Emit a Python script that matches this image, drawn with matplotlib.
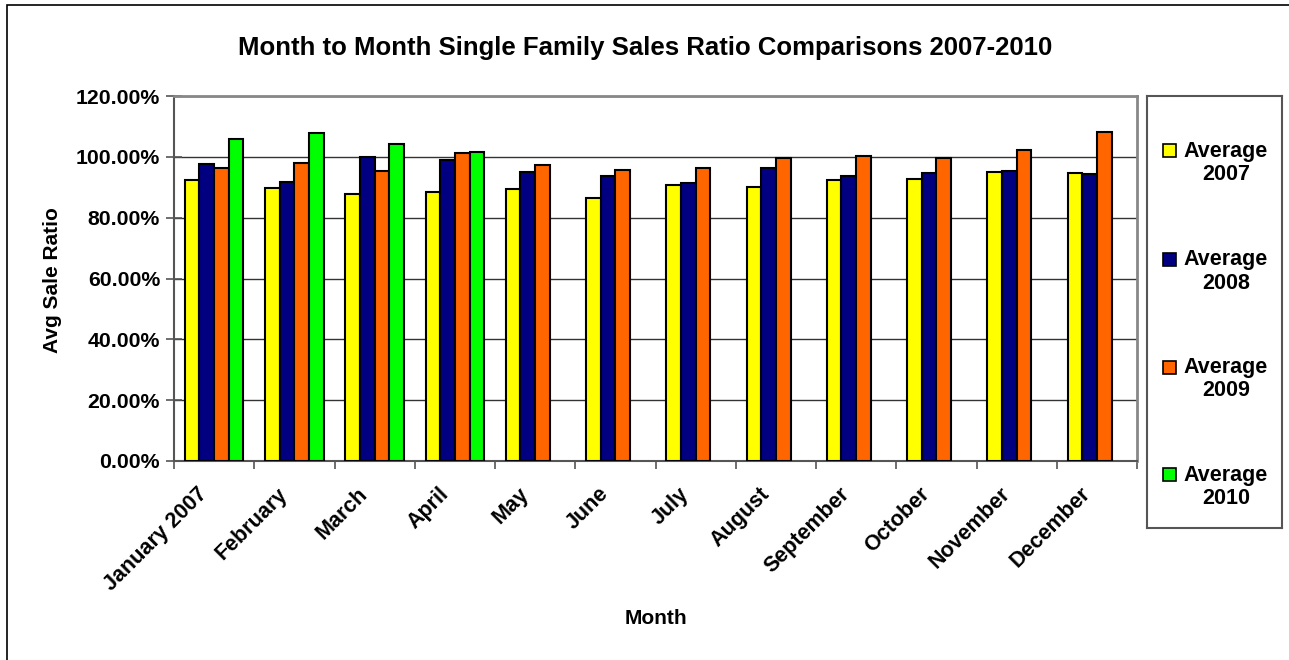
import numpy as np
import matplotlib
matplotlib.use("Agg")
import matplotlib.pyplot as plt
from matplotlib.patches import Rectangle
from matplotlib.ticker import PercentFormatter, FixedLocator
from matplotlib.transforms import ScaledTranslation

plt.rcParams['font.family'] = ['Liberation Sans', 'DejaVu Sans']
plt.rcParams['font.weight'] = 'bold'

# data (fractions)
months = ['January 2007', 'February', 'March', 'April', 'May', 'June', 'July',
          'August', 'September', 'October', 'November', 'December']
avg_2007 = [0.925, 0.898, 0.879, 0.886, 0.894, 0.865, 0.908, 0.902, 0.923, 0.928, 0.951, 0.946]
avg_2008 = [0.978, 0.916, 1.000, 0.989, 0.951, 0.937, 0.914, 0.964, 0.936, 0.947, 0.952, 0.944]
avg_2009 = [0.964, 0.981, 0.952, 1.012, 0.974, 0.957, 0.962, 0.997, 1.002, 0.995, 1.022, 1.081]
avg_2010 = [1.059, 1.079, 1.043, 1.015, np.nan, np.nan, np.nan, np.nan, np.nan, np.nan, np.nan, np.nan]

series = [avg_2007, avg_2008, avg_2009, avg_2010]
labels = ['Average\n2007', 'Average\n2008', 'Average\n2009', 'Average\n2010']
colors = ['#FFFF00', '#000080', '#FF6600', '#00FF00']

W, H = 1289, 660
fig = plt.figure(figsize=(W / 100, H / 100), dpi=100)

# outer chart border
fig.patches.append(Rectangle((7 / W, -0.5), 1.5, 0.5 + (H - 5) / H, transform=fig.transFigure,
                             fill=False, edgecolor='black', lw=1.2))

ax = fig.add_axes([174 / W, (H - 461) / H, (1137 - 174) / W, (461 - 96) / H])

x = np.arange(len(months))
bw = 0.183
for i, (vals, c) in enumerate(zip(series, colors)):
    ax.bar(x + (i - 1.5) * bw, vals, bw, color=c, edgecolor='black', lw=1.5, zorder=3)

ax.set_xlim(-0.5, len(months) - 0.5)
ax.set_ylim(0, 1.2)
ax.set_yticks(np.arange(0, 1.21, 0.2))
ax.yaxis.set_major_formatter(PercentFormatter(xmax=1, decimals=2))
ax.yaxis.grid(True, color='#333333', lw=1, zorder=0)

ax.set_xticks(x)
ax.set_xticklabels(months, rotation=45, ha='right', va='top', rotation_mode='anchor')
ax.xaxis.set_minor_locator(FixedLocator(np.arange(-0.5, len(months), 1)))
ax.tick_params(axis='x', which='major', length=0, pad=14, labelsize=15.5)
ax.tick_params(axis='x', which='minor', length=6, width=1.2, color='#555555')
ax.tick_params(axis='y', direction='inout', length=12, width=1.2, color='#555555',
               labelsize=15.3, pad=4)
# shift month labels left/down like the original
shift = ScaledTranslation(-0.17, -0.03, fig.dpi_scale_trans)
for lbl in ax.get_xticklabels():
    lbl.set_transform(lbl.get_transform() + shift)

for s in ['top', 'right']:
    ax.spines[s].set_color('#888888')
    ax.spines[s].set_linewidth(2)
for s in ['left', 'bottom']:
    ax.spines[s].set_color('#555555')
    ax.spines[s].set_linewidth(1.5)

ax.set_xlabel('Month', fontsize=15, fontweight='bold')
ax.xaxis.set_label_coords(0.5, -0.405)
ax.set_ylabel('Avg Sale Ratio', fontsize=15, fontweight='bold')
ax.yaxis.set_label_coords(-0.116, 0.495)

fig.text(645 / W, (H - 48) / H, 'Month to Month Single Family Sales Ratio Comparisons 2007-2010',
         ha='center', va='center', fontsize=18.5, fontweight='bold')

# legend box, in pixel coordinates
lax = fig.add_axes([1147 / W, (H - 528) / H, (1282 - 1147) / W, (528 - 96) / H])
lax.set_xlim(1147, 1282)
lax.set_ylim(528, 96)
lax.set_xticks([])
lax.set_yticks([])
for s in lax.spines.values():
    s.set_color('#555555')
    s.set_linewidth(1.5)
rows = [150.5, 259.5, 367, 474.5]
for yy, lab, c in zip(rows, labels, colors):
    lax.add_patch(Rectangle((1163, yy - 6.5), 13, 13, facecolor=c, edgecolor='black', lw=1.2))
    lax.text(1226, yy - 10, lab, ha='center', va='top', fontsize=15.5, fontweight='bold',
             multialignment='center', linespacing=1.15)

fig.savefig('out.png', dpi=100)
